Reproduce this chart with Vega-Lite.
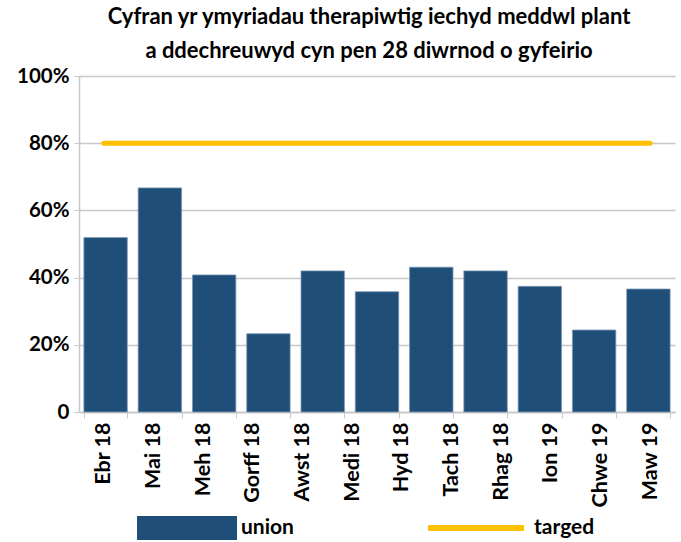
{
  "$schema": "https://vega.github.io/schema/vega-lite/v6.json",
  "width": 596,
  "height": 336,
  "autosize": {"type": "none"},
  "padding": {"left": 79, "top": 76, "right": 6, "bottom": 130},
  "background": "white",
  "config": {
    "font": "Lato",
    "view": {"stroke": null},
    "axis": {"labelFont": "Lato", "labelFontWeight": "bold", "labelColor": "#000000", "labelFontSize": 20.5}
  },
  "title": {
    "text": ["Cyfran yr ymyriadau therapiwtig iechyd meddwl plant", "a ddechreuwyd cyn pen 28 diwrnod o gyfeirio"],
    "font": "Lato",
    "fontSize": 22,
    "fontWeight": "bold",
    "color": "#000000",
    "lineHeight": 34,
    "anchor": "middle",
    "baseline": "bottom",
    "offset": 12,
    "dy": 31,
    "dx": -8
  },
  "datasets": {
    "bars": [
      {"month": "Ebr 18", "value": 0.519, "series": "union"},
      {"month": "Mai 18", "value": 0.667, "series": "union"},
      {"month": "Meh 18", "value": 0.408, "series": "union"},
      {"month": "Gorff 18", "value": 0.233, "series": "union"},
      {"month": "Awst 18", "value": 0.420, "series": "union"},
      {"month": "Medi 18", "value": 0.358, "series": "union"},
      {"month": "Hyd 18", "value": 0.431, "series": "union"},
      {"month": "Tach 18", "value": 0.420, "series": "union"},
      {"month": "Rhag 18", "value": 0.374, "series": "union"},
      {"month": "Ion 19", "value": 0.244, "series": "union"},
      {"month": "Chwe 19", "value": 0.366, "series": "union"}
    ],
    "target": [
      {"month": "Ebr 18", "target": 0.8, "series": "targed"},
      {"month": "Mai 18", "target": 0.8, "series": "targed"},
      {"month": "Meh 18", "target": 0.8, "series": "targed"},
      {"month": "Gorff 18", "target": 0.8, "series": "targed"},
      {"month": "Awst 18", "target": 0.8, "series": "targed"},
      {"month": "Medi 18", "target": 0.8, "series": "targed"},
      {"month": "Hyd 18", "target": 0.8, "series": "targed"},
      {"month": "Tach 18", "target": 0.8, "series": "targed"},
      {"month": "Rhag 18", "target": 0.8, "series": "targed"},
      {"month": "Ion 19", "target": 0.8, "series": "targed"},
      {"month": "Chwe 19", "target": 0.8, "series": "targed"},
      {"month": "Maw 19", "target": 0.8, "series": "targed"}
    ]
  },
  "layer": [
    {
      "data": {"name": "bars"},
      "mark": {"type": "bar", "stroke": "#7d99b5", "strokeWidth": 0.8},
      "encoding": {
        "x": {
          "field": "month", "type": "nominal", "sort": null,
          "scale": {"paddingInner": 0.2, "paddingOuter": 0.09},
          "axis": {"orient": "bottom", "title": null, "labels": false, "ticks": true, "tickBand": "extent", "tickSize": 6, "tickColor": "#c8c8c8", "domainColor": "#c8c8c8", "domainWidth": 1.5, "grid": false}
        },
        "y": {
          "field": "value", "type": "quantitative",
          "scale": {"domain": [0, 1], "nice": false},
          "axis": {"title": null, "values": [0, 0.2, 0.4, 0.6, 0.8, 1], "labelExpr": "datum.value == 0 ? '0' : format(datum.value, '.0%')", "grid": true, "gridColor": "#c8c8c8", "gridWidth": 1.3, "tickColor": "#c8c8c8", "tickSize": 5, "domainColor": "#c8c8c8", "domainWidth": 1.5, "labelPadding": 5}
        },
        "fill": {
          "field": "series", "type": "nominal",
          "scale": {"range": ["#1F4E79"]},
          "legend": {"orient": "none", "legendX": 58, "legendY": 402, "title": null, "padding": 0, "symbolType": "M-1,-0.24H1V0.24H-1Z", "symbolSize": 10000, "symbolStrokeWidth": 0, "labelFontSize": 21, "labelFontWeight": "bold", "labelColor": "#000000", "labelOffset": 4, "labelFont": "Lato"}
        }
      }
    },
    {
      "data": {"name": "target"},
      "mark": {"type": "line", "strokeWidth": 5, "strokeCap": "round"},
      "encoding": {
        "x": {
          "field": "month", "type": "nominal", "sort": null,
          "axis": {"orient": "bottom", "title": null, "ticks": false, "domain": false, "labelAngle": -90, "labelPadding": 10, "labelFontSize": 21.5, "grid": false}
        },
        "y": {"field": "target", "type": "quantitative"},
        "stroke": {
          "field": "series", "type": "nominal",
          "scale": {"range": ["#FFC000"]},
          "legend": {"orient": "none", "legendX": 346, "legendY": 401, "title": null, "padding": 0, "symbolType": "stroke", "symbolSize": 9216, "symbolStrokeWidth": 6, "labelFontSize": 21, "labelFontWeight": "bold", "labelColor": "#000000", "labelOffset": 7, "labelFont": "Lato"}
        }
      }
    }
  ],
  "resolve": {"scale": {"x": "independent"}}
}
